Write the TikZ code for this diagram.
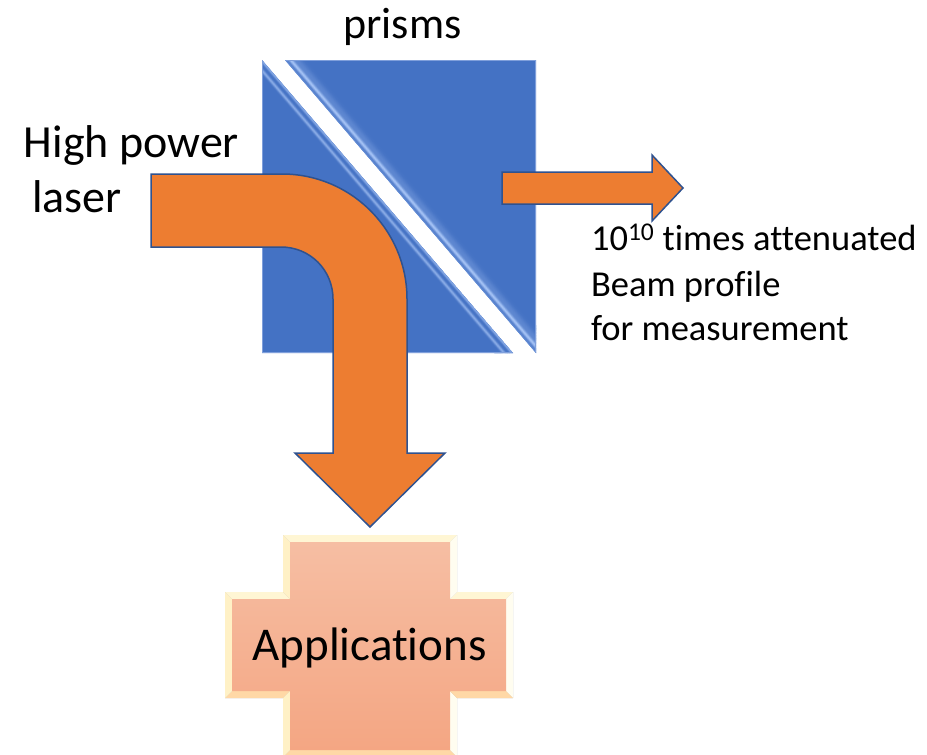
\documentclass[tikz,border=0pt]{standalone}
\usepackage{fontspec}
\setmainfont{Carlito}[Ligatures={NoCommon}]
\definecolor{prismblue}{HTML}{4472C4}
\definecolor{prismlight}{HTML}{A9C6F7}
\definecolor{prismedge}{HTML}{7F9FDB}
\definecolor{beamorange}{HTML}{ED7D31}
\definecolor{beamline}{HTML}{2F528F}
\definecolor{bevup}{HTML}{FFF6D4}
\definecolor{bevright}{HTML}{FFFDF0}
\definecolor{bevdown}{HTML}{FFD8A6}
\definecolor{bevleft}{HTML}{FFF1C6}
\definecolor{facetop}{HTML}{F6BEA3}
\definecolor{facebot}{HTML}{F4A683}
\tikzset{
  beam/.style={fill=beamorange, draw=beamline, line width=1.5pt, line join=miter},
  lbl/.style={inner sep=0pt, outer sep=0pt, text=black},
  bigtxt/.style={lbl, font=\fontsize{46}{55}\selectfont},
  smalltxt/.style={lbl, font=\fontsize{36.5}{44}\selectfont},
}
\begin{document}
\begin{tikzpicture}[x=1pt,y=-1pt]
\useasboundingbox (0,0) rectangle (927,755);

% ---------- prisms ----------
\fill[prismblue] (262,60) -- (262,353) -- (513,353) -- cycle;
\fill[prismblue] (285,60) -- (536,60) -- (536,353) -- cycle;
\begin{scope}
  \clip (262,60) -- (262,353) -- (513,353) -- cycle;
  \foreach \d in {0,0.5,...,14} {
    \pgfmathsetmacro{\p}{min(100,65*exp(-((\d-1)/1.4)^2)+70*exp(-((\d-7)/1.6)^2))}
    \draw[line width=0.8pt, prismlight!\p!prismblue, shift={(-0.7595*\d,0.6506*\d)}] (250,46) -- (525,367);
  }
  \draw[prismedge, line width=1pt] (262.5,60) -- (262.5,352.5) -- (513,352.5);
\end{scope}
\begin{scope}
  \clip (285,60) -- (536,60) -- (536,353) -- cycle;
  \foreach \d in {0,0.5,...,18} {
    \pgfmathsetmacro{\p}{min(100,40*exp(-(\d/1.2)^2)+90*exp(-((\d-4.5)/2)^2)+25*exp(-((\d-9)/4)^2))}
    \draw[line width=0.8pt, prismlight!\p!prismblue, shift={(0.7595*\d,-0.6506*\d)}] (273,46) -- (548,367);
  }
  \draw[prismedge, line width=1pt] (285,60.5) -- (535.5,60.5) -- (535.5,353);
\end{scope}

% ---------- bent beam ----------
\draw[beam] (151,174) -- (282,174) .. controls (351,174) and (407,230) .. (407,299)
  -- (407,453) -- (445,453) -- (370,527) -- (295,453) -- (333,453) -- (333,299)
  .. controls (333,270) and (310,247) .. (281,247) -- (151,247) -- cycle;

% ---------- attenuated beam ----------
\draw[beam] (502,172) -- (652,172) -- (652,155) -- (683,188) -- (652,221)
  -- (652,204) -- (502,204) -- cycle;

% ---------- applications cross ----------
\coordinate (O1) at (283,535);  \coordinate (O2) at (457,535);
\coordinate (O3) at (457,592);  \coordinate (O4) at (513,592);
\coordinate (O5) at (513,698);  \coordinate (O6) at (457,698);
\coordinate (O7) at (457,757);  \coordinate (O8) at (283,757);
\coordinate (O9) at (283,698);  \coordinate (O10) at (225,698);
\coordinate (O11) at (225,592); \coordinate (O12) at (283,592);
\coordinate (I1) at (290,542);  \coordinate (I2) at (450,542);
\coordinate (I3) at (450,599);  \coordinate (I4) at (506,599);
\coordinate (I5) at (506,691);  \coordinate (I6) at (450,691);
\coordinate (I7) at (450,750);  \coordinate (I8) at (290,750);
\coordinate (I9) at (290,691);  \coordinate (I10) at (232,691);
\coordinate (I11) at (232,599); \coordinate (I12) at (290,599);
\foreach \s/\o in {6/0.06,5/0.08,4/0.1,3/0.1} {
  \fill[black, opacity=\o, shift={(\s,\s)}] (O1) -- (O2) -- (O3) -- (O4) -- (O5) -- (O6)
    -- (O7) -- (O8) -- (O9) -- (O10) -- (O11) -- (O12) -- cycle;
}
\fill[bevup] (O1) -- (O2) -- (I2) -- (I1) -- cycle;
\fill[bevup] (O3) -- (O4) -- (I4) -- (I3) -- cycle;
\fill[bevup] (O11) -- (O12) -- (I12) -- (I11) -- cycle;
\fill[bevright] (O2) -- (O3) -- (I3) -- (I2) -- cycle;
\fill[bevright] (O4) -- (O5) -- (I5) -- (I4) -- cycle;
\fill[bevright] (O6) -- (O7) -- (I7) -- (I6) -- cycle;
\fill[bevdown] (O5) -- (O6) -- (I6) -- (I5) -- cycle;
\fill[bevdown] (O7) -- (O8) -- (I8) -- (I7) -- cycle;
\fill[bevdown] (O9) -- (O10) -- (I10) -- (I9) -- cycle;
\fill[bevleft] (O8) -- (O9) -- (I9) -- (I8) -- cycle;
\fill[bevleft] (O10) -- (O11) -- (I11) -- (I10) -- cycle;
\fill[bevleft] (O12) -- (O1) -- (I1) -- (I12) -- cycle;
\shade[top color=facetop, bottom color=facebot] (I1) -- (I2) -- (I3) -- (I4) -- (I5) -- (I6)
  -- (I7) -- (I8) -- (I9) -- (I10) -- (I11) -- (I12) -- cycle;

% ---------- labels ----------
\node[lbl, font=\fontsize{44}{53}\selectfont, anchor=base] (prisms) at (402.5,38) {prisms};
\node[bigtxt, anchor=base] (high) at (131.5,157) {High power};
\node[bigtxt, anchor=base] (laser) at (77,212) {laser};
\node[smalltxt, anchor=base west] (att) at (591,250) {10\textsuperscript{10} times attenuated};
\node[smalltxt, anchor=base west] (beamprof) at (591,296) {Beam profile};
\node[smalltxt, anchor=base west] (meas) at (591,340) {for measurement};
\node[lbl, font=\fontsize{47}{56}\selectfont, anchor=base] (apps) at (369.5,660) {Applications};
\end{tikzpicture}
\end{document}
